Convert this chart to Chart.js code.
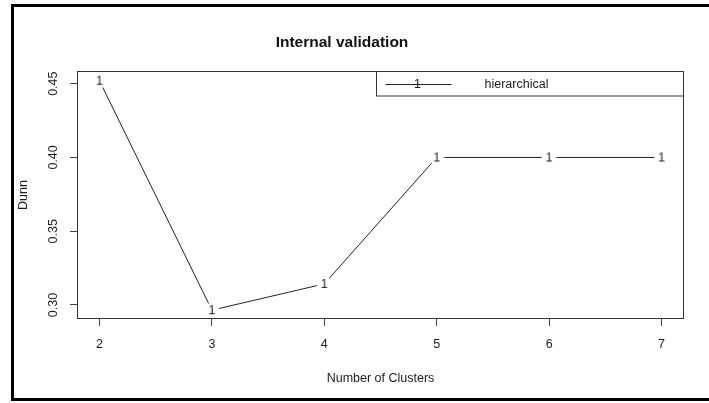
<!DOCTYPE html>
<html>
<head>
<meta charset="utf-8">
<script src="https://cdn.jsdelivr.net/npm/chart.js@4/dist/chart.umd.min.js"></script>
<style>
  html, body { margin: 0; padding: 0; background: #fff; }
  #wrap { width: 709px; height: 403px; }
</style>
</head>
<body>
<div id="wrap"><canvas id="dunn-chart" width="709" height="403"></canvas></div>
<script>
const clusters = [2, 3, 4, 5, 6, 7];
const dunnValues = [0.452, 0.2965, 0.3143, 0.4, 0.4, 0.4];
const xTicks = [2, 3, 4, 5, 6, 7];
const yTicks = [0.3, 0.35, 0.4, 0.45];
const seriesName = "hierarchical";
const pointChar = "1";

const FONT = "'Liberation Sans', Arial, Helvetica, sans-serif";
const INK = "#1c1c1c";
Chart.defaults.font.family = FONT;
Chart.defaults.color = INK;

// R-style "1" marker with a white halo so the line stops short of it
function makeMarker() {
  const c = document.createElement("canvas");
  c.width = 16;
  c.height = 16;
  const g = c.getContext("2d");
  g.fillStyle = "#fff";
  g.beginPath();
  g.arc(8, 8, 7.5, 0, Math.PI * 2);
  g.fill();
  g.fillStyle = INK;
  g.font = "12.5px " + FONT;
  g.textAlign = "center";
  g.textBaseline = "middle";
  g.fillText(pointChar, 8, 8.5);
  return c;
}

// outer frame + plot box + legend box
const framePlugin = {
  id: "rframe",
  beforeDatasetsDraw(chart) {
    const { ctx, chartArea: a } = chart;
    ctx.save();
    ctx.strokeStyle = "#333";
    ctx.lineWidth = 1;
    ctx.strokeRect(a.left + 0.5, a.top + 0.5, a.right - a.left - 1, a.bottom - a.top - 1);
    ctx.restore();
  },
  afterDraw(chart) {
    const { ctx, chartArea: a } = chart;
    ctx.save();
    // legend
    const lw = 307, lh = 24.5;
    const lx = a.right - lw - 0.5, ly = a.top + 0.5;
    ctx.fillStyle = "#fff";
    ctx.fillRect(lx, ly, lw, lh);
    ctx.strokeStyle = "#333";
    ctx.lineWidth = 1;
    ctx.strokeRect(lx, ly, lw, lh);
    const my = Math.round(ly + lh / 2) + 0.5;
    ctx.strokeStyle = "#222";
    ctx.beginPath();
    ctx.moveTo(lx + 9, my);
    ctx.lineTo(lx + 75, my);
    ctx.stroke();
    ctx.fillStyle = INK;
    ctx.font = "12.5px " + FONT;
    ctx.textBaseline = "middle";
    ctx.textAlign = "center";
    ctx.fillText(pointChar, lx + 41, my + 0.5);
    ctx.textAlign = "left";
    ctx.fillText(seriesName, lx + 108, my + 0.5);

    // heavy frame round the figure
    ctx.strokeStyle = "#000";
    ctx.lineWidth = 3;
    ctx.beginPath();
    ctx.moveTo(709, 5.5);
    ctx.lineTo(12.5, 5.5);
    ctx.lineTo(12.5, 399.5);
    ctx.lineTo(709, 399.5);
    ctx.stroke();
    ctx.restore();
  }
};

const tickFont = { size: 12.5 };

new Chart(document.getElementById("dunn-chart"), {
  type: "line",
  data: {
    datasets: [{
      label: seriesName,
      data: clusters.map((c, i) => ({ x: c, y: dunnValues[i] })),
      borderColor: "#222",
      borderWidth: 1,
      tension: 0,
      pointStyle: makeMarker(),
      pointRadius: 8,
      pointHoverRadius: 8,
      clip: false
    }]
  },
  options: {
    responsive: false,
    animation: false,
    events: [],
    layout: { padding: { left: 0, right: 25, top: 0, bottom: 0 } },
    plugins: {
      legend: { display: false },
      tooltip: { enabled: false },
      title: {
        display: true,
        text: "Internal validation",
        color: "#111",
        font: { size: 15.5, weight: "bold", lineHeight: 1.2 },
        padding: { top: 33, bottom: 19.4 }
      }
    },
    scales: {
      x: {
        type: "linear",
        min: 1.8,
        max: 7.2,
        afterBuildTicks: s => { s.ticks = xTicks.map(v => ({ value: v })); },
        afterFit: s => { s.height = 84; },
        grid: { drawOnChartArea: false, tickLength: 7, color: "#444" },
        border: { display: false },
        ticks: { padding: 11, maxRotation: 0, autoSkip: false, font: tickFont, color: INK },
        title: {
          display: true,
          text: "Number of Clusters",
          font: { size: 12.5 },
          color: INK,
          padding: { top: 0, bottom: 17 }
        }
      },
      y: {
        type: "linear",
        min: 0.2905,
        max: 0.4586,
        afterBuildTicks: s => { s.ticks = yTicks.map(v => ({ value: v })); },
        afterFit: s => { s.width = 77; },
        grid: { drawOnChartArea: false, tickLength: 7, color: "#444" },
        border: { display: false },
        ticks: {
          minRotation: 90,
          maxRotation: 90,
          crossAlign: "center",
          padding: 4,
          font: tickFont,
          color: INK,
          callback: v => Number(v).toFixed(2)
        },
        title: {
          display: true,
          text: "Dunn",
          font: { size: 12.5 },
          color: INK,
          padding: { top: 16.5, bottom: 0 }
        }
      }
    }
  },
  plugins: [framePlugin]
});
</script>
</body>
</html>
